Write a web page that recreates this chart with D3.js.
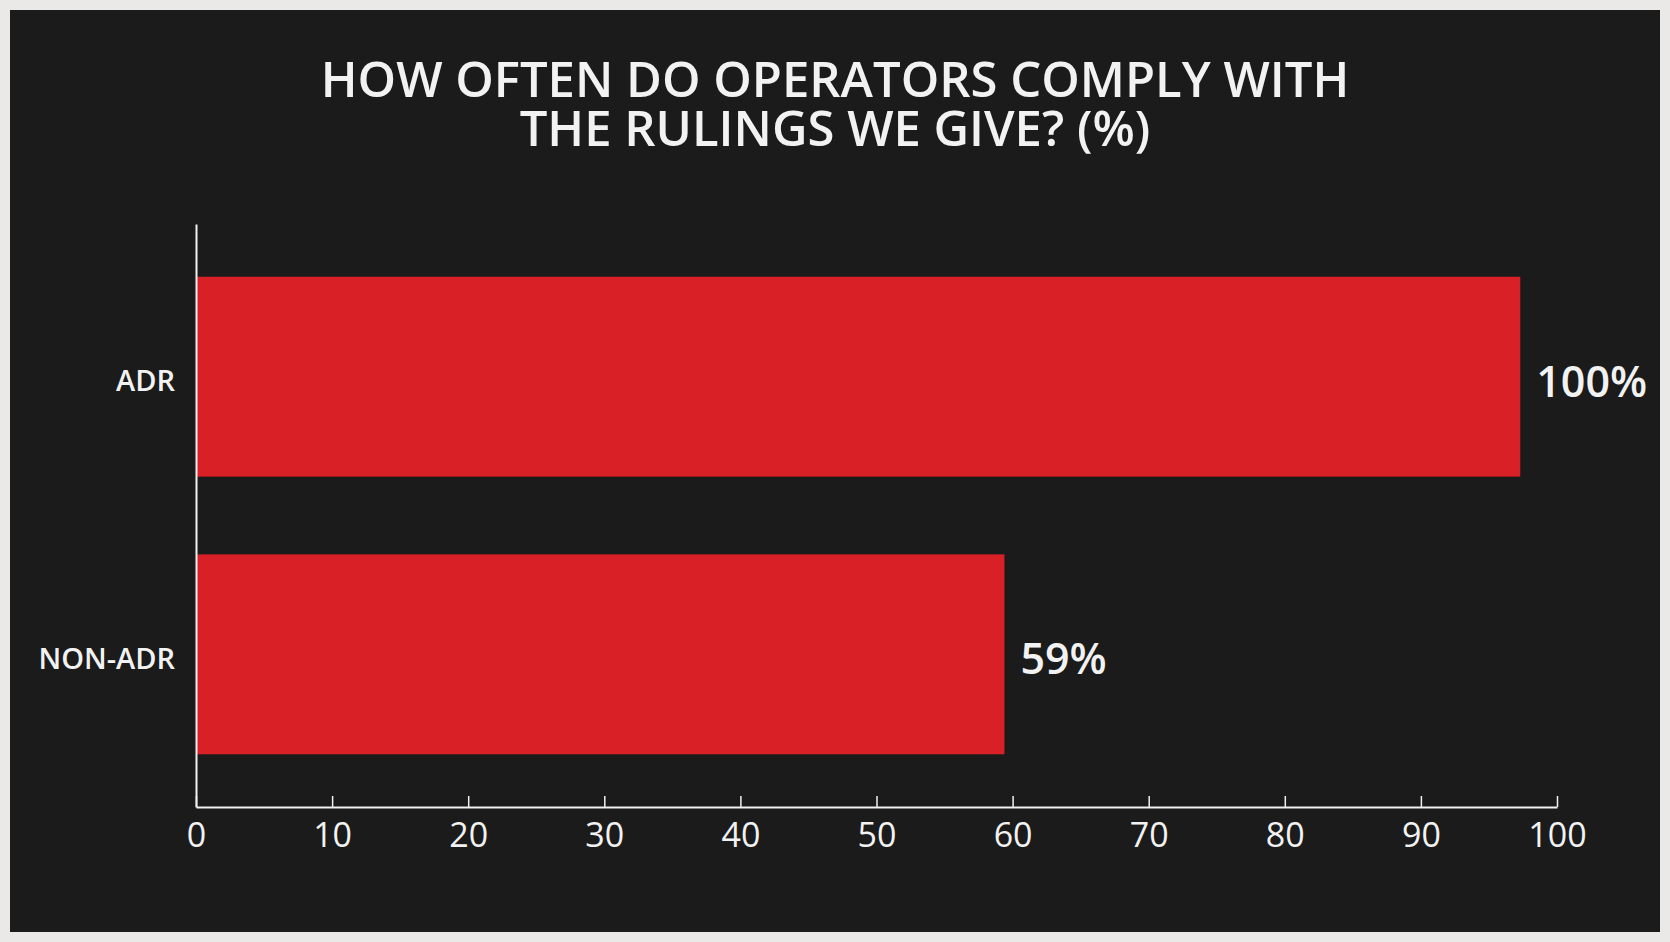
<!DOCTYPE html>
<html>
<head>
<meta charset="utf-8">
<script src="https://cdn.jsdelivr.net/npm/d3@7"></script>
<style>
  html, body { margin: 0; padding: 0; background: #ebe9e7; }
  svg { display: block; }
  text { font-family: "Open Sans", "Noto Sans", sans-serif; }
</style>
</head>
<body>
<svg id="chart" width="1670" height="942"></svg>
<script>
// ---- data ----
const titleLines = ["HOW OFTEN DO OPERATORS COMPLY WITH", "THE RULINGS WE GIVE? (%)"];
const categories = ["ADR", "NON-ADR"];
const values = [97.3, 59.4];          // bar lengths as drawn
const valueLabels = ["100%", "59%"];  // labels printed next to the bars
const xTicks = [0, 10, 20, 30, 40, 50, 60, 70, 80, 90, 100];

// ---- layout ----
const svg = d3.select("#chart");

svg.append("rect")
  .attr("x", 10).attr("y", 10)
  .attr("width", 1650).attr("height", 922)
  .attr("fill", "#1b1b1b");

const x = d3.scaleLinear().domain([0, 100]).range([196, 1557]);
const y = d3.scaleBand().domain(categories).range([224, 807])
  .paddingInner(0.28).paddingOuter(0.19);

// title (two separate lines)
svg.append("g")
  .selectAll("text")
  .data(titleLines)
  .join("text")
  .attr("text-anchor", "middle")
  .attr("fill", "#f2f2f2")
  .attr("font-size", 49)
  .attr("font-weight", 600)
  .attr("x", 835)
  .attr("y", (d, i) => 97 + i * 49)
  .text(d => d);

// bars
svg.append("g")
  .selectAll("rect")
  .data(categories)
  .join("rect")
  .attr("x", x(0))
  .attr("y", d => y(d))
  .attr("width", (d, i) => x(values[i]) - x(0))
  .attr("height", y.bandwidth())
  .attr("fill", "#d92027");

// value labels
svg.append("g")
  .selectAll("text")
  .data(categories)
  .join("text")
  .attr("x", (d, i) => x(values[i]) + 16)
  .attr("y", d => y(d) + y.bandwidth() / 2 + 5)
  .attr("dy", "0.35em")
  .attr("fill", "#f2f2f2")
  .attr("font-size", 43)
  .attr("font-weight", 600)
  .text((d, i) => valueLabels[i]);

// y axis
const yAxis = svg.append("g")
  .attr("transform", `translate(${x(0)},0)`)
  .call(d3.axisLeft(y).tickSize(0).tickSizeOuter(0).tickPadding(21));
yAxis.select(".domain").attr("stroke", "#f2f2f2").attr("stroke-width", 2);
yAxis.selectAll(".tick text")
  .attr("fill", "#f2f2f2")
  .attr("font-size", 29)
  .attr("font-weight", 600)
  .attr("dy", "0.5em")
  .style("font-family", "'Open Sans', 'Noto Sans', sans-serif");

// x axis
const xAxis = svg.append("g")
  .attr("transform", `translate(0,${807})`)
  .call(d3.axisBottom(x).tickValues(xTicks).tickSize(-11).tickSizeOuter(0).tickPadding(16));
xAxis.select(".domain").attr("stroke", "#f2f2f2").attr("stroke-width", 2);
xAxis.selectAll(".tick line").attr("stroke", "#f2f2f2").attr("stroke-width", 1.5);
xAxis.selectAll(".tick text")
  .attr("fill", "#f2f2f2")
  .attr("font-size", 34)
  .attr("font-weight", 400)
  .style("font-family", "'Open Sans', 'Noto Sans', sans-serif");
</script>
</body>
</html>
